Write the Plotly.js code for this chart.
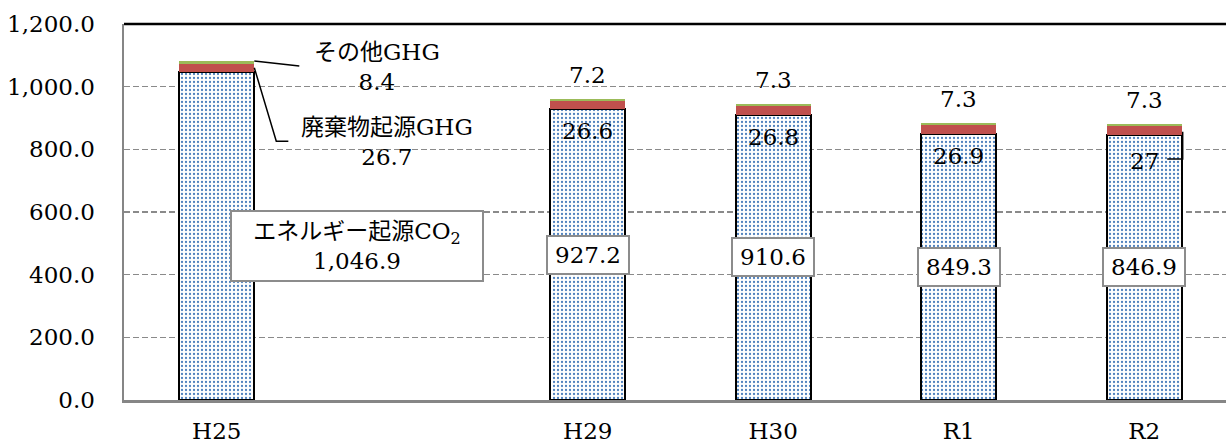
<!DOCTYPE html>
<html>
<head>
<meta charset="utf-8">
<script src="https://cdn.plot.ly/plotly-3.0.1.min.js"></script>
<style>html,body{margin:0;padding:0;background:#fff;}#chart{width:1226px;height:446px;}</style>
</head>
<body>
<div id="chart"></div>
<script>
const categories = ["H25", " ", "H29", "H30", "R1", "R2"];
const energyCO2 = [1046.9, null, 927.2, 910.6, 849.3, 846.9];
const wasteGHG = [26.7, null, 26.6, 26.8, 26.9, 27];
const otherGHG = [8.4, null, 7.2, 7.3, 7.3, 7.3];
const seriesNames = ["エネルギー起源CO<sub>2</sub>", "廃棄物起源GHG", "その他GHG"];
const yTickValues = [0, 200, 400, 600, 800, 1000, 1200];

const FONT = "DejaVu Serif, Noto Sans CJK JP, serif";
const FS = 23;
const fmt1 = v => v.toLocaleString('en-US', {minimumFractionDigits: 1, maximumFractionDigits: 1});

const traces = [
  {type: 'bar', x: categories, y: energyCO2, name: seriesNames[0], hoverinfo: 'skip',
   marker: {color: '#ffffff', line: {color: '#000000', width: 2},
            pattern: {shape: '.', fgcolor: '#4f81bd', bgcolor: '#ffffff', size: 4, solidity: 0.25}}},
  {type: 'bar', x: categories, y: wasteGHG, name: seriesNames[1], hoverinfo: 'skip',
   marker: {color: '#c0504d', line: {width: 0}}},
  {type: 'bar', x: categories, y: otherGHG, name: seriesNames[2], hoverinfo: 'skip',
   marker: {color: '#9bbb59', line: {width: 0}}}
];

const annotations = [];
const shapes = [];
const half = 0.2025;

categories.forEach((c, i) => {
  if (energyCO2[i] == null) return;
  const e = energyCO2[i], w = wasteGHG[i], o = otherGHG[i];
  const total = e + w + o;
  if (i === 0) {
    annotations.push({x: c, y: total, xref: 'x', yref: 'y', xshift: 160, yshift: -6,
      text: seriesNames[2] + '<br>' + String(o), showarrow: false, align: 'center',
      font: {family: FONT, size: FS, color: '#000'}});
    annotations.push({x: c, y: e + w, xref: 'x', yref: 'y', xshift: 170, yshift: -78,
      text: seriesNames[1] + '<br>' + String(w), showarrow: false, align: 'center',
      font: {family: FONT, size: FS, color: '#000'}});
    annotations.push({x: c, y: e / 2, xref: 'x', yref: 'y', xshift: 140, yshift: -10,
      text: seriesNames[0] + '<br>' + fmt1(e), showarrow: false, align: 'center',
      bgcolor: '#ffffff', bordercolor: '#8c8c8c', borderwidth: 2, borderpad: 2, width: 246, height: 64,
      font: {family: FONT, size: FS, color: '#000'}});
    shapes.push({type: 'line', xref: 'x', yref: 'y', x0: i + half, y0: total, x1: i + 0.445, y1: total - 16,
      line: {color: '#000', width: 1.5}});
    shapes.push({type: 'path', xref: 'x', yref: 'y',
      path: `M ${i + half} ${e + w / 2} L ${i + 0.321} ${826} L ${i + 0.386} ${826}`,
      line: {color: '#000', width: 1.5}});
  } else {
    annotations.push({x: c, y: total, xref: 'x', yref: 'y', yshift: 24, text: String(o), showarrow: false,
      font: {family: FONT, size: FS, color: '#000'}});
    const isLast = i === categories.length - 1;
    annotations.push({x: c, y: e, xref: 'x', yref: 'y', yshift: isLast ? -26 : -22, text: String(w), showarrow: false,
      font: {family: FONT, size: FS, color: '#000'}});
    annotations.push({x: c, y: e / 2, xref: 'x', yref: 'y', text: fmt1(e), showarrow: false,
      bgcolor: '#ffffff', bordercolor: '#8c8c8c', borderwidth: 2, borderpad: 2, width: 76, height: 32,
      font: {family: FONT, size: FS, color: '#000'}});
    if (isLast) {
      shapes.push({type: 'path', xref: 'x', yref: 'y',
        path: `M ${i + half + 0.005} ${e + w / 3} L ${i + half + 0.005} ${e - 78} L ${i + 0.124} ${e - 78}`,
        line: {color: '#000', width: 1.5}});
    }
  }
});

shapes.push({type: 'line', xref: 'paper', yref: 'paper', x0: 0, x1: 1, y0: 1, y1: 1, line: {color: '#000', width: 2.5}});

const layout = {
  width: 1226, height: 446,
  margin: {l: 124, r: 0, t: 24, b: 46, pad: 0},
  paper_bgcolor: '#ffffff', plot_bgcolor: '#ffffff',
  barmode: 'stack', bargap: 0.595, showlegend: false,
  font: {family: FONT, size: FS, color: '#000'},
  xaxis: {type: 'category', range: [-0.5, 5.441], showgrid: false, zeroline: false,
          showline: true, linecolor: '#868686', linewidth: 3, ticks: '', ticklabelstandoff: 8,
          tickfont: {family: FONT, size: FS, color: '#000'}, fixedrange: true},
  yaxis: {range: [0, 1200], tickvals: yTickValues, tickformat: ',.1f', showgrid: true,
          gridcolor: '#8a8a8a', gridwidth: 1.5, griddash: '6px,3px', zeroline: false,
          showline: true, linecolor: '#868686', linewidth: 2.5, ticks: '', ticklabelstandoff: 22,
          tickfont: {family: FONT, size: FS, color: '#000'}, fixedrange: true},
  annotations: annotations,
  shapes: shapes
};

Plotly.newPlot('chart', traces, layout, {staticPlot: true, displayModeBar: false});
</script>
</body>
</html>
